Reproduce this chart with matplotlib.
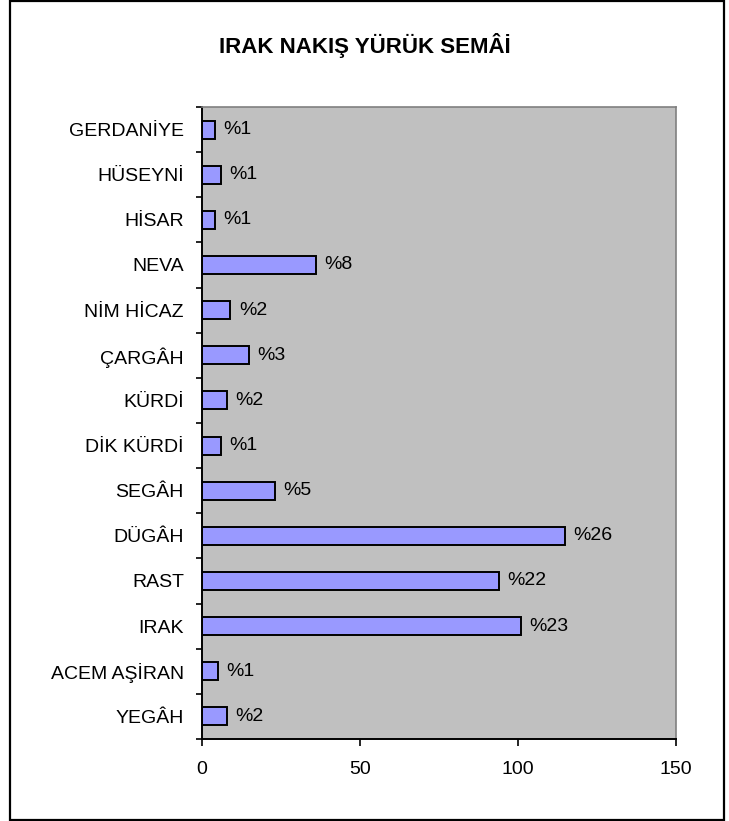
"""
Irak Nakış Yürük Semâi - horizontal bar chart of makam usage.
"""

import matplotlib
matplotlib.use("Agg")
import matplotlib.pyplot as plt
from matplotlib.patches import Rectangle
from matplotlib.ticker import FixedLocator

plt.rcParams['font.family'] = ['Liberation Sans', 'DejaVu Sans']

# Data (top to bottom as shown)
makams = ["GERDANİYE", "HÜSEYNİ", "HİSAR", "NEVA", "NİM HİCAZ", "ÇARGÂH",
          "KÜRDİ", "DİK KÜRDİ", "SEGÂH", "DÜGÂH", "RAST", "IRAK",
          "ACEM AŞİRAN", "YEGÂH"]
counts = [4, 6, 4, 36, 9, 15, 8, 6, 23, 115, 94, 101, 5, 8]
pct_labels = ["%1", "%1", "%1", "%8", "%2", "%3", "%2", "%1", "%5",
              "%26", "%22", "%23", "%1", "%2"]
x_ticks = [0, 50, 100, 150]

fig = plt.figure(figsize=(7.29, 8.21), dpi=100)
ax = fig.add_axes([0.2771, 0.0999, 0.6502, 0.7698])
ax.set_facecolor('#C0C0C0')

y = list(range(len(makams)))
ax.barh(y, counts, height=0.4, color='#9999FF', edgecolor='black', linewidth=1.4)

for yi, val, lab in zip(y, counts, pct_labels):
    ax.annotate(lab, xy=(val, yi), xytext=(6, 0), textcoords='offset points',
                ha='left', va='center', fontsize=14, color='black')

ax.set_xlim(0, 150)
ax.set_ylim(len(makams) - 0.5, -0.5)
ax.set_xticks(x_ticks)
ax.set_yticks(y)
ax.set_yticklabels(makams)
ax.yaxis.set_minor_locator(FixedLocator([i - 0.5 for i in range(len(makams) + 1)]))

ax.tick_params(axis='y', which='major', length=0, pad=13, labelsize=14)
ax.tick_params(axis='y', which='minor', length=4, width=1.2, direction='out')
ax.tick_params(axis='x', length=5, width=1.2, direction='out', pad=11, labelsize=14)

for side in ['left', 'bottom']:
    ax.spines[side].set_color('black')
    ax.spines[side].set_linewidth(1.4)
for side in ['top', 'right']:
    ax.spines[side].set_color('#808080')
    ax.spines[side].set_linewidth(1.2)

fig.text(0.5, 0.945, "IRAK NAKIŞ YÜRÜK SEMÂİ", ha='center', va='center',
         fontsize=16, fontweight='bold')

# outer chart frame
fig.patches.append(Rectangle((10 / 729, 1.5 / 821), 714 / 729, 818 / 821,
                             transform=fig.transFigure, fill=False,
                             edgecolor='black', linewidth=1.6))

fig.savefig('out.png', dpi=100, facecolor='white')
